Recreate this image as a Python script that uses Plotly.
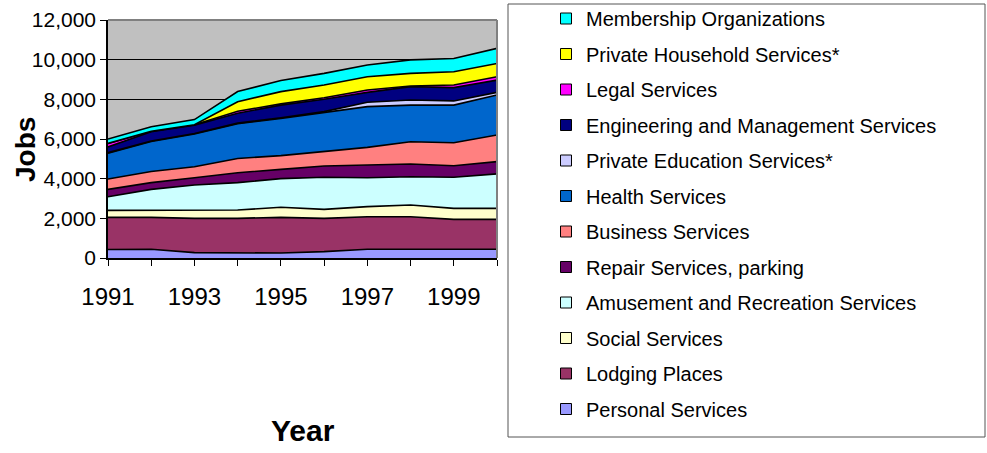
import plotly.graph_objects as go

years = [1991, 1992, 1993, 1994, 1995, 1996, 1997, 1998, 1999, 2000]
x_ticktext = ["1991", "", "1993", "", "1995", "", "1997", "", "1999", ""]

# stacking order: bottom -> top
personal = [430, 440, 270, 270, 250, 320, 440, 440, 440, 440]
lodging = [1620, 1610, 1730, 1730, 1800, 1680, 1640, 1640, 1510, 1510]
social = [350, 350, 420, 420, 510, 450, 510, 590, 550, 550]
amusement = [690, 1060, 1260, 1380, 1440, 1620, 1460, 1430, 1570, 1740]
repair = [370, 340, 370, 500, 470, 570, 640, 640, 580, 620]
business = [520, 560, 550, 720, 690, 720, 890, 1120, 1160, 1340]
health = [1300, 1510, 1650, 1750, 1880, 1970, 2050, 1850, 1900, 2020]
private_edu = [30, 30, 30, 30, 30, 50, 220, 260, 210, 130]
engineering = [290, 470, 420, 500, 640, 620, 500, 670, 670, 620]
legal = [180, 20, 20, 100, 60, 80, 120, 30, 130, 170]
private_household = [0, 0, 0, 480, 620, 640, 670, 640, 670, 670]
membership = [220, 230, 260, 510, 560, 590, 590, 680, 670, 760]

series_names = [
    "Personal Services",
    "Lodging Places",
    "Social Services",
    "Amusement and Recreation Services",
    "Repair Services, parking",
    "Business Services",
    "Health Services",
    "Private Education Services*",
    "Engineering and Management Services",
    "Legal Services",
    "Private Household Services*",
    "Membership Organizations",
]
series_values = [personal, lodging, social, amusement, repair, business, health,
                 private_edu, engineering, legal, private_household, membership]
series_colors = ["#9999FF", "#993366", "#FFFFCC", "#CCFFFF", "#660066", "#FF8080",
                 "#0066CC", "#CCCCFF", "#000080", "#FF00FF", "#FFFF00", "#00FFFF"]

fig = go.Figure()

for name, vals, col in zip(series_names, series_values, series_colors):
    fig.add_trace(go.Scatter(
        x=years, y=vals, name=name, stackgroup="one", mode="lines",
        line=dict(color="black", width=1.6), fillcolor=col,
        showlegend=False, hoverinfo="skip",
    ))

# legend entries (top to bottom: Membership ... Personal)
for i, (name, col) in enumerate(zip(series_names[::-1], series_colors[::-1])):
    fig.add_trace(go.Scatter(
        x=[None], y=[None], mode="markers", name=name, legendgroup=f"g{i:02d}",
        marker=dict(symbol="square", size=11, color=col, line=dict(color="black", width=1)),
        showlegend=True,
    ))

def px_x(px):
    return (px - 108) / 389.0

def px_y(py):
    return (258 - py) / 238.0

fig.update_layout(
    width=987, height=453,
    margin=dict(l=108, r=490, t=20, b=195, autoexpand=False),
    paper_bgcolor="white",
    plot_bgcolor="#C0C0C0",
    font=dict(family="Liberation Sans, Arial, sans-serif", color="black"),
    showlegend=True,
    legend=dict(
        x=px_x(546), y=px_y(-1), xanchor="left", yanchor="top",
        font=dict(size=20, family="Liberation Sans, Arial, sans-serif"),
        tracegroupgap=6.5, bgcolor="rgba(0,0,0,0)", borderwidth=0,
        traceorder="grouped", maxheight=450,
    ),
    xaxis=dict(
        range=[1991, 2000], tickvals=years, ticktext=x_ticktext,
        ticks="outside", ticklen=6, tickcolor="black", tickwidth=1,
        showline=True, linecolor="black", linewidth=2,
        showgrid=False, zeroline=False, automargin=False,
        tickfont=dict(size=24), ticklabelstandoff=10,
    ),
    yaxis=dict(
        range=[0, 12000], dtick=2000, tickformat=",",
        ticks="outside", ticklen=6, tickcolor="black", tickwidth=1,
        showline=True, linecolor="black", linewidth=1.5,
        showgrid=True, gridcolor="black", gridwidth=1,
        zeroline=False, tickfont=dict(size=21), automargin=False,
    ),
    shapes=[
        dict(type="rect", xref="paper", yref="paper",
             x0=px_x(508), x1=px_x(985), y0=px_y(437), y1=px_y(4),
             line=dict(color="#555555", width=1), fillcolor="rgba(0,0,0,0)"),
        dict(type="line", xref="paper", yref="paper", x0=0, x1=1, y0=1, y1=1,
             line=dict(color="#808080", width=2), layer="above"),
        dict(type="line", xref="paper", yref="paper", x0=1, x1=1, y0=0, y1=1,
             line=dict(color="#808080", width=2), layer="above"),
    ],
    annotations=[
        dict(text="<b>Jobs</b>", xref="paper", yref="paper", x=px_x(25), y=px_y(150),
             showarrow=False, textangle=-90, font=dict(size=28),
             xanchor="center", yanchor="middle"),
        dict(text="<b>Year</b>", xref="paper", yref="paper", x=px_x(303), y=px_y(430),
             showarrow=False, font=dict(size=30), xanchor="center", yanchor="middle"),
    ],
)

fig.write_html(
    "out.html",
    config={"displayModeBar": False},
    post_script="document.body.style.margin='0';document.body.style.overflow='hidden';",
)
